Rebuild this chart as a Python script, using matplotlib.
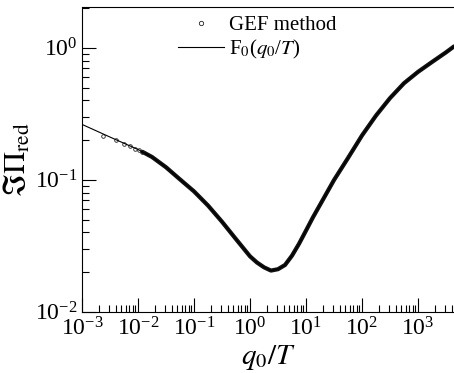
import matplotlib
matplotlib.use("Agg")
import matplotlib.pyplot as plt
from matplotlib.ticker import LogLocator, NullFormatter

plt.rcParams["font.family"] = ["Liberation Serif", "DejaVu Serif"]
plt.rcParams["mathtext.fontset"] = "stix"

# F0(q0/T), analytic curve
f0_x = [1e-3, 1.78e-3, 3.16e-3, 5.62e-3, 1e-2, 1.78e-2, 3.16e-2, 5.62e-2,
        0.1, 0.178, 0.316, 0.562, 1.0, 1.33, 1.78, 2.37, 3.16, 4.22, 5.62,
        7.5, 10.0, 13.3, 17.8, 31.6, 56.2, 100.0, 178.0, 316.0, 562.0,
        1000.0, 1780.0, 3160.0, 4395.0]
f0_y = [0.263, 0.2355, 0.2109, 0.1892, 0.1698, 0.1489, 0.1245, 0.1007,
        0.0817, 0.0638, 0.0481, 0.0355, 0.0263, 0.0236, 0.0217, 0.0205,
        0.0210, 0.0226, 0.0266, 0.0327, 0.0412, 0.0519, 0.0646, 0.0995,
        0.1462, 0.2168, 0.3069, 0.4159, 0.5395, 0.6577, 0.7816, 0.9247,
        1.0257]

# GEF method: sparse points at small q0/T, then a dense run that merges
gef_x = [0.0024, 0.0040, 0.0056, 0.0072, 0.0088, 0.0104, 0.012]
gef_y = [0.213, 0.199, 0.187, 0.179, 0.1725, 0.167, 0.163]
gef_dense_x = [0.012, 1.78e-2, 3.16e-2, 5.62e-2, 0.1, 0.178, 0.316, 0.562,
               1.0, 1.33, 1.78, 2.37, 3.16, 4.22, 5.62, 7.5, 10.0, 13.3, 17.8,
               31.6, 56.2, 100.0, 178.0, 316.0, 562.0, 1000.0, 1780.0,
               3160.0, 4395.0]
gef_dense_y = [0.163, 0.1489, 0.1245, 0.1007, 0.0817, 0.0638, 0.0481, 0.0355,
               0.0263, 0.0236, 0.0217, 0.0205, 0.0210, 0.0226, 0.0266, 0.0327,
               0.0412, 0.0519, 0.0646, 0.0995, 0.1462, 0.2168, 0.3069, 0.4159,
               0.5395, 0.6577, 0.7816, 0.9247, 1.0257]

fig = plt.figure(figsize=(4.54, 3.73), dpi=100)
ax = fig.add_axes([82 / 454, 1 - 311.7 / 373, 1 - 82 / 454, (311.7 - 7) / 373])

ax.plot(gef_dense_x, gef_dense_y, color="#111111", lw=3.0,
        solid_capstyle="round", solid_joinstyle="round", label="_nolegend_")
ax.plot(gef_x, gef_y, ls="none", marker="o", ms=2.6, mfc="none",
        mec="#222222", mew=0.6, label="GEF method")
ax.plot(f0_x, f0_y, color="black", lw=0.8, label=r"F$_0$($q_{\mathit{0}}$/$T$)")

ax.set_xscale("log")
ax.set_yscale("log")
ax.set_xlim(1e-3, 10 ** 3.643)
ax.set_ylim(1e-2, 10 ** 0.31)

ax.xaxis.set_major_locator(LogLocator(base=10, numticks=20))
ax.yaxis.set_major_locator(LogLocator(base=10, numticks=20))
ax.xaxis.set_minor_locator(LogLocator(base=10, subs=range(2, 10), numticks=20))
ax.yaxis.set_minor_locator(LogLocator(base=10, subs=range(2, 10), numticks=20))
ax.xaxis.set_minor_formatter(NullFormatter())
ax.yaxis.set_minor_formatter(NullFormatter())

ax.tick_params(which="both", direction="in", top=False, right=False,
               labelsize=17, width=0.8)
ax.tick_params(which="major", length=10)
ax.tick_params(which="minor", length=5)
ax.tick_params(axis="x", which="major", pad=4)
ax.tick_params(axis="y", which="major", pad=3)

ax.spines["right"].set_visible(False)
for s in ["left", "top", "bottom"]:
    ax.spines[s].set_linewidth(0.8)

ax.set_xlabel(r"$q_{\mathit{0}}/T$", fontsize=21, labelpad=2)
ax.set_ylabel(r"$\Im\Pi_{\mathrm{red}}$", fontsize=22, labelpad=2)

ax.legend(loc="upper left", bbox_to_anchor=(0.258, 0.972), frameon=False,
          fontsize=15, handlelength=2.2, handletextpad=0.25,
          labelspacing=0.15, borderpad=0, borderaxespad=0, markerscale=1.2)

fig.savefig("out.png", dpi=100)
